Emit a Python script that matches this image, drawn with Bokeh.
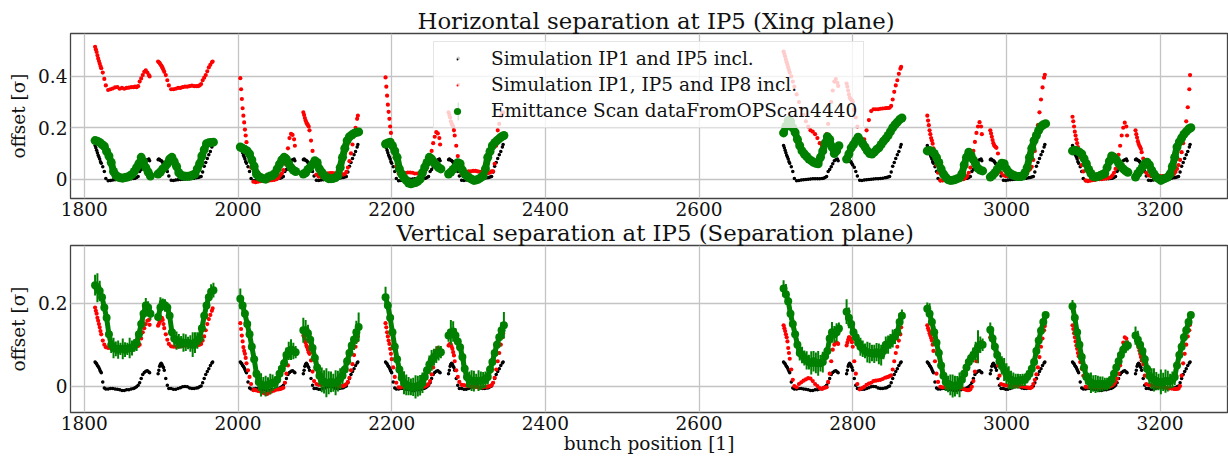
from bokeh.plotting import figure
from bokeh.layouts import column
from bokeh.models import Legend, LegendItem, FixedTicker, Range1d, ColumnDataSource
from bokeh.embed import file_html
from bokeh.resources import INLINE

title_top = "Horizontal separation at IP5 (Xing plane)"
title_bot = "Vertical separation at IP5 (Separation plane)"
x_label = "bunch position [1]"
y_label = "offset [σ]"
legend_labels = ["Simulation IP1 and IP5 incl.", "Simulation IP1, IP5 and IP8 incl.", "Emittance Scan dataFromOPScan4440"]
x_ticks = [1800, 2000, 2200, 2400, 2600, 2800, 3000, 3200]
y_ticks_top = [0, 0.2, 0.4]
y_ticks_bot = [0, 0.2]

# first bunch of every train
train_start = [1814, 1896, 2003, 2085, 2192, 2274, 2710, 2792, 2897, 2979, 3086, 3168]
sim_off = [0,1,2,3,4,5,6,7,8,10,12,14,17,20,23,26,29,32,35,38,41,44,47,50,52,54,56,58,60,62,64,66,68,70,71]
scan_off = [0,3,6,9,12,15,18,21,24,27,30,33,36,39,42,45,48,51,54,57,60,63,66,69,72]

# all values below in units of 0.001 sigma
# --- horizontal plane
black_h_a = [131,122,113,103,93,86,78,68,62,48,30,3,-6,-5,-3,-2,-1,0,1,2,2,2,2,3,4,6,10,30,38,48,60,72,76,78,72]
black_h_b = [76,78,76,74,72,70,65,60,55,46,30,12,-4,-5,-3,-2,-1,0,1,2,2,3,4,5,6,8,10,28,50,65,80,95,108,125,135]
red_h_1 = [515,505,495,482,470,460,450,440,432,415,390,365,347,350,353,357,358,352,355,352,355,356,358,358,360,358,362,380,392,405,418,424,415,405,400]
red_h_2 = [458,455,452,447,442,438,432,425,418,405,385,365,350,350,352,355,355,358,360,360,362,364,362,362,362,365,370,385,395,405,420,435,445,455,458]
red_h_3 = [393,350,312,276,247,221,193,170,144,110,85,45,-10,-12,-10,-8,-6,-6,-6,-5,-4,-3,0,5,15,22,35,60,90,120,160,176,172,155,130]
red_h_4 = [260,250,238,228,220,215,210,205,190,150,110,75,18,10,10,12,20,23,24,24,23,24,20,20,18,20,28,45,70,100,135,170,200,235,247]
red_h_5 = [396,360,325,290,262,235,205,180,150,120,85,50,22,22,22,24,26,26,25,22,22,24,26,28,35,45,60,80,110,140,165,183,178,160,135]
red_h_6 = [260,250,240,225,215,210,205,190,170,130,90,55,20,25,28,30,30,32,32,30,28,28,26,24,24,26,30,30,60,130,190,215,245,255,260]
red_h_7 = [497,487,477,465,455,445,435,425,415,400,380,360,330,300,275,250,225,205,190,185,175,160,140,130,135,150,175,215,260,300,345,380,390,375,363]
red_h_8 = [372,360,345,330,318,312,310,306,300,270,240,205,165,155,155,190,230,265,272,272,272,274,275,276,277,277,278,285,310,340,365,385,410,430,437]
red_h_9 = [247,228,210,190,175,160,150,138,120,90,55,25,-5,-5,-3,-2,-2,0,0,0,0,0,0,5,12,25,45,75,110,145,180,205,222,205,175]
red_h_10 = [190,178,165,152,140,132,128,125,122,100,60,25,15,12,12,12,12,14,14,15,18,22,28,34,40,48,75,110,160,210,260,310,357,395,406]
red_h_11 = [243,225,205,185,170,155,140,125,110,85,55,30,-5,-8,-6,-4,-3,0,0,0,2,3,5,8,15,25,40,65,95,130,170,200,220,205,170]
red_h_12 = [190,175,162,148,138,130,125,118,105,80,50,25,15,12,12,12,12,12,12,12,13,14,15,20,28,40,55,75,105,140,180,225,280,350,405]
green_h_1 = [150,148,143,135,128,108,90,65,30,15,8,5,4,6,8,12,18,30,45,60,85,68,45,28,12]
green_h_2 = [20,28,40,48,60,78,85,68,50,25,15,12,11,11,12,16,20,40,60,90,115,138,142,143,144]
green_h_3 = [125,120,115,110,98,75,50,20,10,5,2,0,8,12,14,22,40,58,75,85,78,60,45,35,30]
green_h_4 = [20,25,38,47,58,72,65,40,27,15,8,2,2,3,6,14,45,85,120,150,165,172,178,182,184]
green_h_5 = [137,141,144,130,110,85,40,20,5,-5,-15,-18,-15,-13,-8,0,25,47,65,85,78,65,55,45,40]
green_h_6 = [20,28,38,48,64,60,35,20,12,5,0,-5,-3,0,6,12,40,85,108,130,142,150,158,165,170]
green_h_7 = [180,205,228,225,200,182,155,130,110,98,88,78,72,66,62,60,85,110,140,165,155,125,100,110,130]
green_h_8 = [78,98,122,135,150,163,150,138,125,110,100,98,105,115,122,135,148,158,170,185,200,212,222,232,238]
green_h_9 = [110,112,108,100,85,65,40,20,8,-2,-5,-4,-2,2,5,20,55,85,105,92,75,58,42,35,32]
green_h_10 = [8,15,25,38,50,62,60,40,27,20,15,12,10,10,12,25,45,85,120,150,170,190,205,212,216]
green_h_11 = [110,113,110,105,98,80,60,38,22,10,8,10,14,18,22,45,70,90,85,75,62,50,40,32,27]
green_h_12 = [8,22,34,48,60,66,55,35,20,8,2,-5,0,4,8,20,50,85,125,145,160,175,185,195,200]
# --- vertical plane
black_v_a = [58,56,54,50,47,44,40,36,32,10,-5,-7,-7,-6,-6,-7,-8,-9,-11,-11,-9,-9,-7,-6,-4,-2,2,8,18,28,33,36,37,34,32]
black_v_b = [30,38,48,53,55,52,48,45,38,18,2,-6,-6,-8,-8,-6,-4,-2,-1,-2,-5,-6,-6,-5,-4,-2,0,8,18,28,35,42,50,56,58]
red_v_1 = [190,182,175,165,158,150,142,133,125,110,100,94,92,92,92,92,92,92,92,92,92,93,94,95,95,96,97,100,115,130,140,150,158,160,148]
red_v_2 = [146,150,155,158,162,165,160,150,140,125,112,102,96,95,95,95,96,97,98,98,97,96,97,98,99,100,102,110,120,135,150,162,172,182,188]
red_v_3 = [152,138,122,108,94,85,78,68,55,38,22,5,-10,-10,-12,-13,-16,-18,-19,-16,-13,-11,-9,-8,-7,-6,-4,8,30,50,72,88,92,90,85]
red_v_4 = [122,118,112,105,98,94,88,82,78,62,35,12,5,3,3,6,9,8,6,4,2,1,0,0,0,2,5,10,20,38,53,75,95,110,120]
red_v_5 = [152,142,130,120,110,102,90,78,65,45,22,8,-3,-3,-2,-2,-2,-2,-2,-2,-2,-2,-2,-2,0,2,5,12,28,45,65,85,92,90,85]
red_v_6 = [98,100,102,100,95,90,82,74,60,38,22,10,3,2,1,0,-1,-2,-2,-3,-3,-3,-2,-2,-1,0,2,8,20,40,60,80,100,118,128]
red_v_7 = [147,140,133,125,118,108,92,80,66,40,15,0,-3,5,9,13,16,19,18,12,5,0,-5,-7,-5,-4,-3,10,30,60,88,100,106,104,102]
red_v_8 = [98,105,112,118,118,115,110,106,95,60,30,5,-8,-5,-2,3,6,8,12,13,14,15,17,20,21,22,24,26,40,60,80,95,110,125,142]
red_v_9 = [147,140,135,128,122,116,110,100,85,60,30,10,-2,-3,-3,-3,-3,-3,-3,-3,-4,-5,-7,-9,-10,-10,-8,-2,12,35,60,85,102,106,106]
red_v_10 = [118,116,114,112,110,108,100,90,75,50,25,5,3,2,1,0,-1,0,0,-1,-1,-2,-3,-4,-5,-3,5,15,28,45,70,95,115,135,145]
red_v_11 = [147,138,128,118,108,98,90,80,72,58,42,25,-2,-3,-3,-3,-3,-3,-3,-3,-3,-3,-2,0,2,5,10,18,30,50,85,105,118,115,106]
red_v_12 = [118,112,106,100,94,86,78,70,62,53,25,5,3,2,1,0,-1,-2,-3,-4,-5,-6,-6,-7,-7,-7,-6,0,25,55,78,100,120,135,148]
green_v_1 = [244,238,230,215,190,165,125,100,92,90,88,90,90,88,90,92,92,98,105,125,150,175,195,190,175]
green_v_2 = [167,190,200,195,190,170,130,115,110,108,106,105,105,104,103,100,105,110,115,140,170,195,215,228,232]
green_v_3 = [211,195,175,150,125,95,65,30,10,3,2,0,3,5,8,8,15,30,42,55,75,85,88,85,82]
green_v_4 = [135,135,128,112,92,68,45,25,15,10,8,8,10,8,8,12,18,25,40,60,80,98,112,130,143]
green_v_5 = [215,195,165,130,95,65,40,20,8,3,0,-2,-2,-2,0,2,8,22,38,52,62,70,76,80,82]
green_v_6 = [122,130,132,122,108,94,70,42,22,15,13,12,12,13,13,14,15,22,40,58,80,100,118,135,147]
green_v_7 = [236,222,205,175,150,125,100,80,75,68,62,58,56,60,56,55,55,58,72,85,115,130,125,130,139]
green_v_8 = [180,165,150,130,118,105,95,90,85,82,80,80,78,82,78,75,85,100,100,108,115,120,130,155,170]
green_v_9 = [187,175,155,130,105,80,50,25,10,5,3,0,0,2,3,15,30,45,58,68,75,85,95,100,100]
green_v_10 = [136,115,95,75,60,50,40,30,20,15,13,12,12,14,15,15,22,30,42,58,85,110,134,155,172]
green_v_11 = [193,165,130,100,70,45,22,12,8,6,5,5,5,5,5,5,8,15,30,45,60,75,88,95,98]
green_v_12 = [122,112,100,85,65,42,25,18,15,12,10,10,10,12,12,12,15,22,50,75,95,118,135,155,172]
err_v_1 = [25,35,25,20,15,12,15,20,25,18,22,15,25,18,15,25,18,15,20,15,20,20,18,15,15]
err_v_2 = [10,25,12,15,12,15,12,20,22,18,15,22,20,15,20,30,25,20,15,15,15,15,15,18,18]
err_v_3 = [25,20,15,12,12,12,15,15,22,28,20,25,18,25,20,15,20,18,15,20,18,22,25,20,15]
err_v_4 = [30,25,20,15,15,15,20,22,30,28,35,28,25,22,30,25,25,20,18,18,18,22,25,28,35]
err_v_5 = [25,20,15,12,15,15,15,20,28,25,22,20,22,28,25,25,25,20,18,22,25,20,20,18,15]
err_v_6 = [15,30,25,18,15,15,20,22,25,20,25,25,18,25,22,20,20,18,15,15,15,15,15,20,32]
err_v_7 = [20,25,15,15,15,15,15,18,20,18,22,18,28,25,25,30,20,25,15,18,15,25,20,22,15]
err_v_8 = [30,25,18,15,15,15,22,20,18,25,25,20,22,22,25,25,20,20,22,18,22,18,18,22,15]
err_v_9 = [15,25,15,15,18,15,15,18,22,20,25,28,25,22,30,22,20,18,15,15,18,22,40,20,15]
err_v_10 = [18,25,18,15,20,22,28,25,28,22,20,18,18,15,15,15,15,12,12,12,10,8,6,5,4]
err_v_11 = [15,15,12,15,15,18,18,20,25,20,22,20,18,18,15,15,15,15,15,18,20,15,15,15,12]
err_v_12 = [22,22,18,15,15,15,20,25,28,22,20,30,22,28,25,18,20,20,15,12,12,10,8,6,4]
err_h = [4,4,4,4,4,4,4,4,4,4,4,4]

red_h = [red_h_1,red_h_2,red_h_3,red_h_4,red_h_5,red_h_6,red_h_7,red_h_8,red_h_9,red_h_10,red_h_11,red_h_12]
red_v = [red_v_1,red_v_2,red_v_3,red_v_4,red_v_5,red_v_6,red_v_7,red_v_8,red_v_9,red_v_10,red_v_11,red_v_12]
green_h = [green_h_1,green_h_2,green_h_3,green_h_4,green_h_5,green_h_6,green_h_7,green_h_8,green_h_9,green_h_10,green_h_11,green_h_12]
green_v = [green_v_1,green_v_2,green_v_3,green_v_4,green_v_5,green_v_6,green_v_7,green_v_8,green_v_9,green_v_10,green_v_11,green_v_12]
err_v = [err_v_1,err_v_2,err_v_3,err_v_4,err_v_5,err_v_6,err_v_7,err_v_8,err_v_9,err_v_10,err_v_11,err_v_12]
err_h_lists = [[e] * len(scan_off) for e in err_h]

FONT = "DejaVu Serif"
FS = "18.5px"


def sim_source(lists):
    xs, ys = [], []
    for s, vals in zip(train_start, lists):
        for o, v in zip(sim_off, vals):
            xs.append(s + o)
            ys.append(v / 1000)
    return ColumnDataSource(dict(x=xs, y=ys))


def scan_source(lists, errs):
    xs, ys, lo, hi = [], [], [], []
    for s, vals, es in zip(train_start, lists, errs):
        for o, v, e in zip(scan_off, vals, es):
            xs.append(s + o)
            ys.append(v / 1000)
            lo.append((v - e) / 1000)
            hi.append((v + e) / 1000)
    return ColumnDataSource(dict(x=xs, y=ys, lo=lo, hi=hi))


def panel(title, offset, height, border_top, border_bottom, ylim, yticks, black, red, green, errs, gsize, ewidth, band):
    p = figure(width=1228, height=height, output_backend="svg", toolbar_location=None,
               x_range=Range1d(1782, 3287.7), y_range=Range1d(*ylim),
               min_border_left=70, min_border_right=1, min_border_top=border_top, min_border_bottom=border_bottom)
    p.title.text = title
    p.title.text_font = FONT
    p.title.text_font_size = "22.8px"
    p.title.text_font_style = "normal"
    p.title.text_color = "#111111"
    p.title.align = "left"
    p.title.offset = offset
    p.title.standoff = 0
    p.outline_line_color = "#444444"
    p.outline_line_width = 1.3
    p.outline_line_alpha = 1
    p.border_fill_color = None
    p.background_fill_color = None
    for ax, ticks in ((p.xaxis, x_ticks), (p.yaxis, yticks)):
        ax.ticker = FixedTicker(ticks=ticks)
        ax.major_label_text_font = FONT
        ax.major_label_text_font_size = FS
        ax.major_label_text_color = "#111111"
        ax.major_tick_out = 0
        ax.major_tick_in = 0
        ax.minor_tick_out = 0
        ax.minor_tick_in = 0
        ax.axis_line_color = None
        ax.major_label_standoff = 3
        ax.axis_label_text_font = FONT
        ax.axis_label_text_font_size = FS
        ax.axis_label_text_font_style = "normal"
        ax.axis_label_text_color = "#111111"
    p.yaxis.axis_label = y_label
    p.yaxis.axis_label_standoff = 6
    p.grid.grid_line_color = "#c4c4c4"
    p.grid.grid_line_width = 1.3
    black_src, red_src = sim_source(black), sim_source(red)
    # "dot" markers give the small legend keys; the circles give the size seen in the data
    b = p.scatter("x", "y", source=black_src, marker="dot", size=10, color="black")
    r = p.scatter("x", "y", source=red_src, marker="dot", size=10, color="red")
    p.scatter("x", "y", source=black_src, size=3.5, color="black", line_width=0)
    p.scatter("x", "y", source=red_src, size=4.2, color="red", line_width=0)
    src = scan_source(green, errs)
    p.segment("x", "lo", "x", "hi", source=src, color="green", line_width=ewidth)
    # the real points overlap into a continuous band: join each train's points
    xs = [[s + o for o in scan_off] for s in train_start]
    ys = [[v / 1000 for v in vals] for vals in green]
    p.multi_line(xs, ys, color="green", line_width=band, line_join="round", line_cap="round")
    g = p.scatter("x", "y", source=src, size=gsize, color="green", line_width=0)
    return p, b, r, g


p1, b1, r1, g1 = panel(title_top, 347, 224, 33, 26, (-0.0753, 0.567), y_ticks_top,
                       [black_h_a, black_h_b] * 6, red_h, green_h, err_h_lists, 9, 1.3, 7)
p2, b2, r2, g2 = panel(title_bot, 326, 244, 29, 48, (-0.064, 0.340), y_ticks_bot,
                       [black_v_a, black_v_b] * 6, red_v, green_v, err_v, 8, 2, 5)
p2.xaxis.axis_label = x_label
p2.xaxis.axis_label_standoff = 0
p2.margin = (-8, 0, 0, 0)

legend = Legend(items=[LegendItem(label=legend_labels[0], renderers=[b1]),
                       LegendItem(label=legend_labels[1], renderers=[r1]),
                       LegendItem(label=legend_labels[2], renderers=[g1])],
                location=(363, 70), orientation="vertical",
                label_text_font=FONT, label_text_font_size=FS, label_text_color="#111111",
                glyph_width=34, glyph_height=18, label_height=20, label_standoff=17,
                padding=6, spacing=5, margin=0,
                background_fill_color="white", background_fill_alpha=0.8,
                border_line_color="#cccccc", border_line_width=1)
p1.add_layout(legend, "center")

# legend keys the Legend cannot size itself: small dots and the vertical error-bar stroke
legend_key_x = [2286.6]
legend_key_lo = [0.228]
legend_key_hi = [0.298]
legend_key_black_y = [0.4707]
legend_key_red_y = [0.3677]
p1.segment(legend_key_x, legend_key_lo, legend_key_x, legend_key_hi, color="green", line_width=1.3, level="overlay")
p1.scatter(legend_key_x, legend_key_black_y, size=3.5, color="black", line_width=0, level="overlay")
p1.scatter(legend_key_x, legend_key_red_y, size=3.5, color="red", line_width=0, level="overlay")

page = column(p1, p2, spacing=0)
open("out.html", "w").write(file_html(page, INLINE))
